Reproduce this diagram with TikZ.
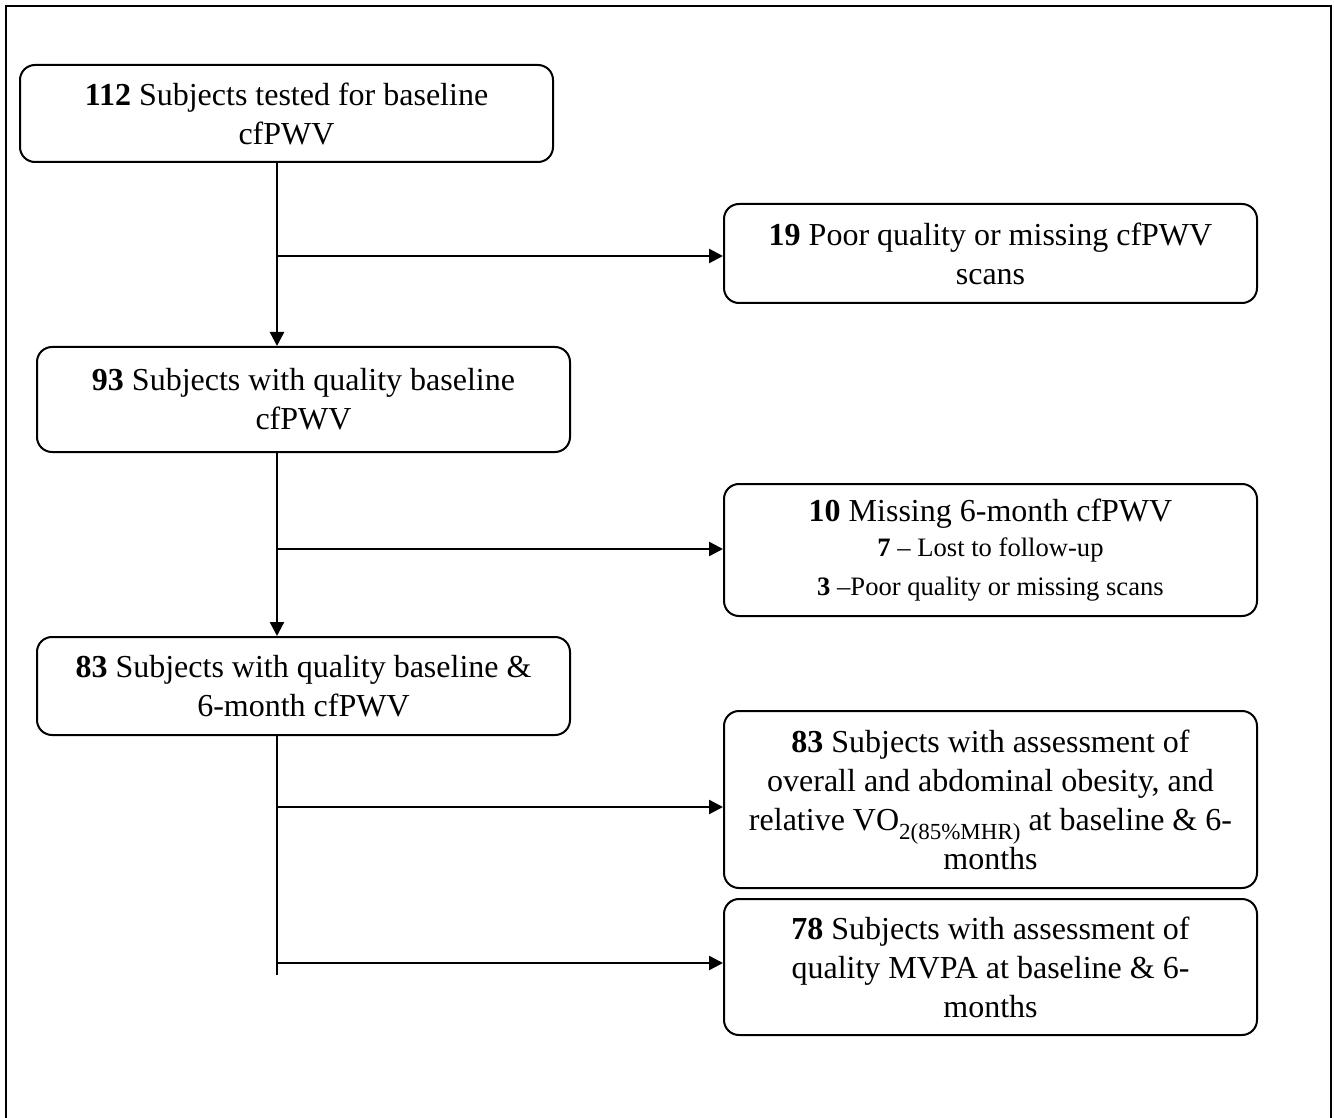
\documentclass[tikz,border=0pt]{standalone}
\usepackage{fontspec}
\setmainfont{Liberation Serif}
\usetikzlibrary{arrows.meta}
\newcommand{\bigtxt}{\fontsize{16pt}{19.5pt}\selectfont}
\newcommand{\smalltxt}{\fontsize{13.3pt}{15pt}\selectfont}
\newcommand{\subtxt}[1]{\raisebox{-0.3em}[0pt][0pt]{\fontsize{11.5pt}{12pt}\selectfont #1}}
\tikzset{
  box/.style={draw=black, line width=1pt, rounded corners=7.5pt, align=center,
    minimum width=266.5pt, inner sep=0pt, font=\bigtxt},
  flow/.style={line width=1.2pt, -{Triangle[length=7pt,width=7pt]}},
  thintrunk/.style={line width=0.7pt},
  frame/.style={line width=0.8pt}
}
\begin{document}
\begin{tikzpicture}[x=0.5pt,y=-0.5pt]
\useasboundingbox (0,0) rectangle (1334,1118);
\draw[frame] (6,1118) -- (6,6) -- (1331,6) -- (1331,1118);

\node[box, minimum height=48.5pt] (b1) at (286.5,113.5) {\textbf{112} Subjects tested for baseline\\cfPWV};
\node[box, minimum height=52.5pt] (b2) at (303.5,399.5) {\textbf{93} Subjects with quality baseline\\cfPWV};
\node[box, minimum height=49pt] (b3) at (303.5,686) {\textbf{83} Subjects with quality baseline \&\\6-month cfPWV};

\node[box, minimum height=49.5pt] (r1) at (990.5,253.5) {\textbf{19} Poor quality or missing cfPWV\\scans};
\node[box, minimum height=66pt] (r2) at (990.5,550) {\textbf{10} Missing 6-month cfPWV\\[-2pt]{\smalltxt\textbf{7} -- Lost to follow-up}\\{\smalltxt\textbf{3} --Poor quality or missing scans}};
\node[box, minimum height=88.5pt] (r3) at (990.5,799.5) {\textbf{83} Subjects with assessment of\\overall and abdominal obesity, and\\relative VO\subtxt{2(85\%MHR)} at baseline \& 6-\\months};
\node[box, minimum height=68pt] (r4) at (990.5,967) {\textbf{78} Subjects with assessment of\\quality MVPA at baseline \& 6-\\months};

\coordinate (t1) at (277,162);
\coordinate (t2) at (277,452);
\coordinate (t3) at (277,735);
\coordinate (tend) at (277,975);
\coordinate (j1) at (277,256);
\coordinate (j2) at (277,549);
\coordinate (j3) at (277,807);
\coordinate (j4) at (277,963);

\draw[flow] (t1) -- (t1 |- b2.north);
\draw[flow] (t2) -- (t2 |- b3.north);
\draw[thintrunk] (t3) -- (tend);

\draw[flow] (j1) -- (j1 -| r1.west);
\draw[flow] (j2) -- (j2 -| r2.west);
\draw[flow] (j3) -- (j3 -| r3.west);
\draw[flow] (j4) -- (j4 -| r4.west);
\end{tikzpicture}
\end{document}
